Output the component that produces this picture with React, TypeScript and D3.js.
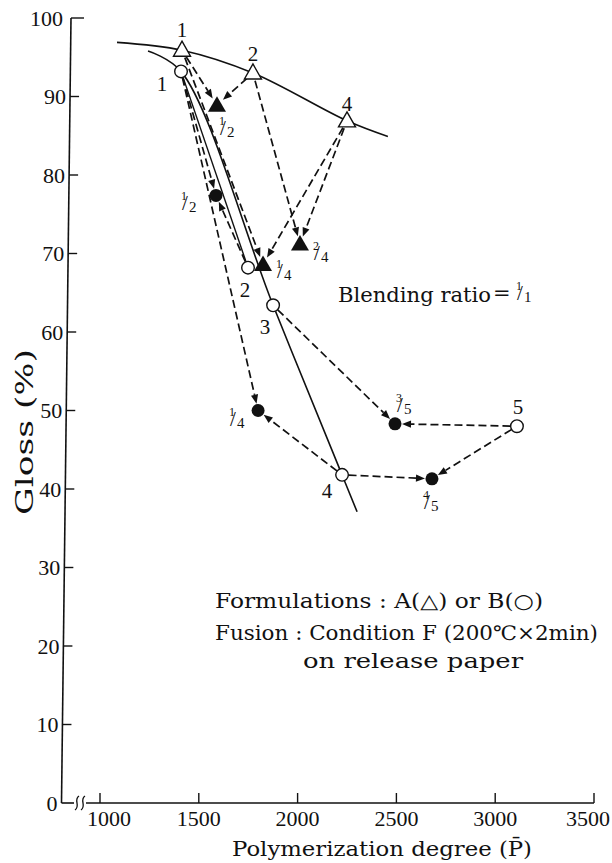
import React from "react";
import * as d3 from "d3";

const W = 612;
const H = 863;

// ---- data ----
const xTicks = [1000, 1500, 2000, 2500, 3000, 3500];
const yTicks = [0, 10, 20, 30, 40, 50, 60, 70, 80, 90, 100];

// solid curve for formulation A (through triangles)
const curveA: [number, number][] = [
  [1086, 96.9],
  [1415, 95.9],
  [1774, 93.0],
  [2250, 86.9],
  [2457, 84.9],
];
// solid curve for formulation B (through circles)
const curveB: [number, number][] = [
  [1243, 95.8],
  [1410, 93.2],
  [1876, 63.4],
  [2225, 41.8],
  [2301, 37.1],
];
const curveB2: [number, number][] = [
  [1410, 93.2],
  [1749, 68.2],
];

const pointsA = [
  { key: "A1", label: "1", p: 1415, g: 95.9 },
  { key: "A2", label: "2", p: 1774, g: 93.0 },
  { key: "A4", label: "4", p: 2250, g: 86.9 },
];
const blendsA = [
  { key: "A12", num: "1", den: "2", p: 1592, g: 88.9 },
  { key: "A14", num: "1", den: "4", p: 1825, g: 68.6 },
  { key: "A24", num: "2", den: "4", p: 2012, g: 71.2 },
];
const pointsB = [
  { key: "B1", label: "1", p: 1410, g: 93.2 },
  { key: "B2", label: "2", p: 1749, g: 68.2 },
  { key: "B3", label: "3", p: 1876, g: 63.4 },
  { key: "B4", label: "4", p: 2225, g: 41.8 },
  { key: "B5", label: "5", p: 3110, g: 48.0 },
];
const blendsB = [
  { key: "B12", num: "1", den: "2", p: 1587, g: 77.4 },
  { key: "B14", num: "1", den: "4", p: 1800, g: 50.0 },
  { key: "B35", num: "3", den: "5", p: 2493, g: 48.3 },
  { key: "B45", num: "4", den: "5", p: 2680, g: 41.3 },
];
const arrows: [string, string][] = [
  ["A1", "A12"], ["A2", "A12"], ["A1", "A14"], ["A4", "A14"], ["A2", "A24"], ["A4", "A24"],
  ["B1", "B12"], ["B2", "B12"], ["B1", "B14"], ["B4", "B14"], ["B3", "B35"], ["B5", "B35"],
  ["B4", "B45"], ["B5", "B45"],
];

// ---- layout / style ----
const labelOffsets: Record<string, [number, number]> = {
  A1: [0, -13], A2: [0, -12], A4: [0, -10],
  B1: [-19, 20], B2: [-3, 29], B3: [-8, 29], B4: [-15, 23], B5: [1, -12],
};
const fracOffsets: Record<string, [number, number]> = {
  A12: [1, 11], B12: [-36, -4], A14: [12, -5], A24: [12, -3],
  B14: [-30, -4], B35: [0, -31], B45: [-10, 11],
};

const x = d3.scaleLinear().domain([1000, 3500]).range([100, 594]);
const y = d3.scaleLinear().domain([0, 100]).range([803, 18]);
// the scanned y axis leans slightly
const axX = (py: number) => 61.5 + (803 - py) * (9.5 / 785);

const SERIF = "Liberation Serif, DejaVu Serif, serif";
const WIDE = "DejaVu Serif, Liberation Serif, serif";
const INK = "#111";
const txt = { fontFamily: SERIF, fill: INK } as React.CSSProperties;
const wide = { fontFamily: WIDE, fill: INK } as React.CSSProperties;

function Frac({ x0, y0, num, den }: { x0: number; y0: number; num: string; den: string }) {
  return (
    <text x={x0 + 1} y={y0 + 9} style={{ ...txt, fontSize: 12 }}>
      {num}
      <tspan x={x0 + 2} y={y0 + 19} style={{ fontSize: 21 }}>/</tspan>
      <tspan x={x0 + 9} y={y0 + 21} style={{ fontSize: 15 }}>{den}</tspan>
    </text>
  );
}

export default function App() {
  const line = d3
    .line<[number, number]>()
    .x((d) => x(d[0]))
    .y((d) => y(d[1]))
    .curve(d3.curveCatmullRom.alpha(0.5));
  const straight = d3
    .line<[number, number]>()
    .x((d) => x(d[0]))
    .y((d) => y(d[1]));

  const all: Record<string, { p: number; g: number; r: number }> = {};
  pointsA.forEach((d) => (all[d.key] = { p: d.p, g: d.g, r: 8 }));
  blendsA.forEach((d) => (all[d.key] = { p: d.p, g: d.g, r: 8 }));
  pointsB.forEach((d) => (all[d.key] = { p: d.p, g: d.g, r: 6.5 }));
  blendsB.forEach((d) => (all[d.key] = { p: d.p, g: d.g, r: 7 }));

  const arrowEls = arrows.map(([s, t], i) => {
    const S = all[s];
    const T = all[t];
    const sx = x(S.p), sy = y(S.g), tx = x(T.p), ty = y(T.g);
    const len = Math.hypot(tx - sx, ty - sy);
    const ux = (tx - sx) / len, uy = (ty - sy) / len;
    const x1 = sx + ux * S.r, y1 = sy + uy * S.r;
    const ex = tx - ux * T.r, ey = ty - uy * T.r;
    const bx = ex - ux * 9, by = ey - uy * 9;
    const nx = -uy, ny = ux;
    return (
      <g key={i}>
        <line x1={x1} y1={y1} x2={bx} y2={by} stroke={INK} strokeWidth={1.7} strokeDasharray="8,4" />
        <path
          d={`M${ex},${ey} L${bx + nx * 3.6},${by + ny * 3.6} L${bx - nx * 3.6},${by - ny * 3.6} Z`}
          fill={INK}
        />
      </g>
    );
  });

  const yBottom = y(0);

  return (
    <svg
      width={W}
      height={H}
      viewBox={`0 0 ${W} ${H}`}
      style={{ position: "absolute", left: 0, top: 0, background: "#fff", fontFamily: SERIF }}
    >
      <rect width={W} height={H} fill="#fff" />
      {/* y axis */}
      <line x1={axX(y(0))} y1={y(0)} x2={axX(y(100))} y2={y(100)} stroke={INK} strokeWidth={1.6} />
      {yTicks.map((t) => {
        const py = y(t);
        const ax = axX(py);
        return (
          <g key={t}>
            {t > 0 && <line x1={ax} y1={py} x2={ax + (t === 100 ? 13 : 9)} y2={py} stroke={INK} strokeWidth={1.4} />}
            <text x={ax - (t === 100 ? 8 : 4)} y={py + 7.5} textAnchor="end" style={{ ...txt, fontSize: 22 }}>
              {t}
            </text>
          </g>
        );
      })}
      {/* x axis with break */}
      <line x1={axX(yBottom)} y1={yBottom} x2={74} y2={yBottom} stroke={INK} strokeWidth={1.6} />
      <line x1={86} y1={yBottom} x2={x(3500)} y2={yBottom} stroke={INK} strokeWidth={1.6} />
      {[77, 83].map((cx) => (
        <path
          key={cx}
          d={`M${cx - 2},${yBottom + 7} C${cx + 4},${yBottom + 3} ${cx - 4},${yBottom - 3} ${cx + 2},${yBottom - 7}`}
          fill="none"
          stroke={INK}
          strokeWidth={1.3}
        />
      ))}
      {xTicks.map((t) => (
        <g key={t}>
          <line x1={x(t)} y1={yBottom} x2={x(t)} y2={yBottom - 10} stroke={INK} strokeWidth={1.4} />
          <text
            x={t === 1000 ? x(t) + 9 : Math.min(x(t), W - 24)}
            y={yBottom + 23}
            textAnchor="middle"
            style={{ ...txt, fontSize: 22 }}
          >
            {t}
          </text>
        </g>
      ))}
      {/* axis titles */}
      <text
        transform={`translate(33,515) rotate(-90)`}
        style={{ ...wide, fontSize: 24 }}
        textLength={166}
        lengthAdjust="spacingAndGlyphs"
      >
        Gloss (%)
      </text>
      <text x={232} y={856} style={{ ...wide, fontSize: 20 }} textLength={300} lengthAdjust="spacingAndGlyphs">
        Polymerization degree (P̄)
      </text>

      {/* curves */}
      <path d={line(curveA) || ""} fill="none" stroke={INK} strokeWidth={1.6} />
      <path d={line(curveB) || ""} fill="none" stroke={INK} strokeWidth={1.6} />
      <path d={straight(curveB2) || ""} fill="none" stroke={INK} strokeWidth={1.4} />

      {/* arrows */}
      {arrowEls}

      {/* markers */}
      {pointsA.map((d) => (
        <path key={d.key} transform={`translate(${x(d.p)},${y(d.g)})`} d="M0,-9 L8.5,6 L-8.5,6 Z" fill="#fff" stroke={INK} strokeWidth={1.4} />
      ))}
      {blendsA.map((d) => (
        <path key={d.key} transform={`translate(${x(d.p)},${y(d.g)})`} d="M0,-9 L9,6.5 L-9,6.5 Z" fill={INK} />
      ))}
      {pointsB.map((d) => (
        <circle key={d.key} cx={x(d.p)} cy={y(d.g)} r={6.3} fill="#fff" stroke={INK} strokeWidth={1.4} />
      ))}
      {blendsB.map((d) => (
        <circle key={d.key} cx={x(d.p)} cy={y(d.g)} r={6.5} fill={INK} />
      ))}

      {/* point labels */}
      {[...pointsA, ...pointsB].map((d) => {
        const [dx, dy] = labelOffsets[d.key];
        return (
          <text key={"l" + d.key} x={x(d.p) + dx} y={y(d.g) + dy} textAnchor="middle" style={{ ...txt, fontSize: 21 }}>
            {d.label}
          </text>
        );
      })}
      {[...blendsA, ...blendsB].map((d) => {
        const [dx, dy] = fracOffsets[d.key];
        return <Frac key={"f" + d.key} x0={x(d.p) + dx} y0={y(d.g) + dy} num={d.num} den={d.den} />;
      })}

      {/* annotations */}
      <text x={338} y={302} style={{ ...wide, fontSize: 21 }} textLength={153} lengthAdjust="spacingAndGlyphs">
        Blending ratio
      </text>
      <text x={493} y={300} style={{ ...wide, fontSize: 21 }}>=</text>
      <Frac x0={515} y0={281} num="1" den="1" />

      <text x={215} y={608} style={{ ...wide, fontSize: 20 }} textLength={328} lengthAdjust="spacingAndGlyphs">
        Formulations : A(△) or B(○)
      </text>
      <text x={215} y={640} style={{ ...wide, fontSize: 20 }} textLength={383} lengthAdjust="spacingAndGlyphs">
        Fusion : Condition F (200℃×2min)
      </text>
      <text x={303} y={668} style={{ ...wide, fontSize: 20 }} textLength={220} lengthAdjust="spacingAndGlyphs">
        on release paper
      </text>
    </svg>
  );
}
